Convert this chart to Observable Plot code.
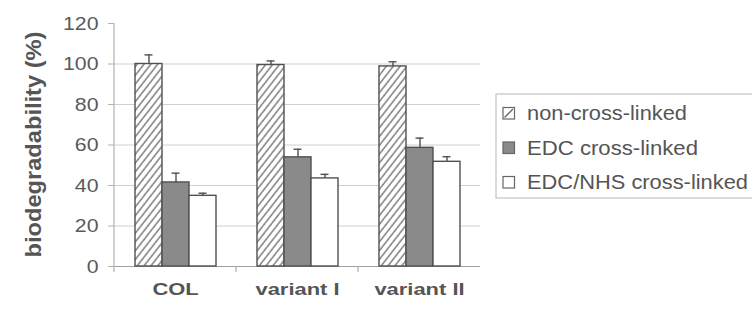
<!DOCTYPE html>
<html>
<head>
<meta charset="utf-8">
<script src="https://cdn.jsdelivr.net/npm/d3@7"></script>
<script src="https://cdn.jsdelivr.net/npm/@observablehq/plot@0.6"></script>
<style>
  html, body { margin: 0; padding: 0; background: white; }
  svg { display: block; }
</style>
</head>
<body>
<div id="chart"></div>
<script>
const groups = ["COL", "variant I", "variant II"];
const series = ["non-cross-linked", "EDC cross-linked", "EDC/NHS cross-linked"];
const nonCrossLinked = [100, 99.5, 98.8];
const edcCrossLinked = [41.5, 53.9, 58.6];
const edcNhsCrossLinked = [34.9, 43.5, 51.7];
const nonCrossErr = [4.5, 2.0, 2.3];
const edcErr = [4.6, 4.0, 4.8];
const edcNhsErr = [1.3, 2.0, 2.5];
const yTicks = [0, 20, 40, 60, 80, 100, 120];
const gridValues = [20, 40, 60, 80, 100];
const yLabel = "biodegradability (%)";

const seriesValues = [nonCrossLinked, edcCrossLinked, edcNhsCrossLinked];
const seriesErrs = [nonCrossErr, edcErr, edcNhsErr];
const fills = ["url(#hatch)", "#8a8a8a", "white"];

const rows = groups.flatMap((g, i) =>
  series.map((s, j) => ({group: g, series: s, value: seriesValues[j][i], err: seriesErrs[j][i]}))
);

const dark = "#505050";
const chart = Plot.plot({
  width: 752,
  height: 311,
  marginLeft: 113,
  marginRight: 271,
  marginTop: 23,
  marginBottom: 45,
  style: {fontFamily: "'Liberation Sans', Arial, sans-serif", background: "white", color: "#5a5a5a"},
  fx: {domain: groups, padding: 0, label: null},
  x: {domain: series, paddingInner: 0, paddingOuter: 0.75, axis: null},
  y: {domain: [0, 120], label: null},
  marks: [
    Plot.ruleY(gridValues, {stroke: "#d0d0d0", strokeWidth: 1}),
    Plot.ruleY([0], {stroke: "#a0a0a0", strokeWidth: 1.2}),
    Plot.axisY({ticks: yTicks, tickSize: 6, tickPadding: 10, fontSize: 19, stroke: "#b0b0b0", fill: "#5a5a5a", label: null}),
    Plot.axisFx({anchor: "bottom", tickSize: 0, tickPadding: 17, fontSize: 16, fontWeight: "bold", fill: "#555", label: null}),
    ...series.map((s, j) =>
      Plot.barY(rows.filter(d => d.series === s), {
        fx: "group", x: "series", y: "value",
        fill: fills[j], stroke: dark, strokeWidth: 1.4
      })
    ),
    Plot.ruleX(rows, {fx: "group", x: "series", y1: "value", y2: d => d.value + d.err, stroke: dark, strokeWidth: 1.4}),
    Plot.tickY(rows, {fx: "group", x: "series", y: d => d.value + d.err, insetLeft: 9.5, insetRight: 9.5, stroke: dark, strokeWidth: 1.4})
  ]
});

document.getElementById("chart").append(chart);

const svg = d3.select(chart);
// hatch pattern
const defs = svg.insert("defs", ":first-child");
const pat = defs.append("pattern").attr("id", "hatch").attr("patternUnits", "userSpaceOnUse")
  .attr("width", 5.4).attr("height", 5.4).attr("patternTransform", "rotate(38)");
pat.append("rect").attr("width", 5.4).attr("height", 5.4).attr("fill", "white");
pat.append("line").attr("x1", 1).attr("y1", 0).attr("x2", 1).attr("y2", 5.4).attr("stroke", "#606060").attr("stroke-width", 1.2);

const fx = chart.scale("fx");
const y = chart.scale("y");
const y0 = y.apply(0);
const yTop = y.apply(120);
const left = fx.apply(groups[0]);
// y axis line
svg.append("line").attr("x1", left).attr("x2", left).attr("y1", yTop).attr("y2", y0 + 6)
  .attr("stroke", "#b0b0b0").attr("stroke-width", 1.2);
// category boundary ticks
groups.slice(1).forEach(g => {
  const x = fx.apply(g);
  svg.append("line").attr("x1", x).attr("x2", x).attr("y1", y0).attr("y2", y0 + 6)
    .attr("stroke", "#b0b0b0").attr("stroke-width", 1.2);
});

// stretch texts like the scanned original
svg.selectAll("g[aria-label='fx-axis tick label'] text").each(function() {
  const w = this.getComputedTextLength();
  d3.select(this).attr("textLength", w * 1.37).attr("lengthAdjust", "spacingAndGlyphs");
});
svg.selectAll("g[aria-label='y-axis tick label'] text").each(function() {
  const w = this.getComputedTextLength();
  d3.select(this).attr("textLength", w * 1.12).attr("lengthAdjust", "spacingAndGlyphs");
});

// y label
svg.append("text")
  .attr("transform", `translate(33,${(y0 + yTop) / 2}) rotate(-90)`)
  .attr("text-anchor", "middle").attr("dy", "0.35em")
  .attr("font-family", "'Liberation Sans', Arial, sans-serif")
  .attr("font-size", 22).attr("font-weight", "bold").attr("fill", "#555")
  .attr("textLength", 226).attr("lengthAdjust", "spacingAndGlyphs")
  .text(yLabel);

// legend
const lg = svg.append("g").attr("font-family", "'Liberation Sans', Arial, sans-serif").attr("text-anchor", "start");
lg.append("rect").attr("x", 496).attr("y", 94).attr("width", 270).attr("height", 104)
  .attr("fill", "white").attr("stroke", "#c4c4c4").attr("stroke-width", 1.2);
const legendWidths = [160, 171, 221];
series.forEach((s, j) => {
  const base = 120 + j * 34.5;
  const sw = lg.append("g");
  sw.append("rect").attr("x", 503).attr("y", base - 12.5).attr("width", 11.5).attr("height", 11.5)
    .attr("fill", j === 1 ? "#8a8a8a" : "white").attr("stroke", "#666").attr("stroke-width", 1.2);
  if (j === 0) {
    sw.append("line").attr("x1", 504.5).attr("y1", base - 2.5).attr("x2", 513).attr("y2", base - 11)
      .attr("stroke", "#666").attr("stroke-width", 1.3);
  }
  lg.append("text").attr("x", 527).attr("y", base).attr("font-size", 19.5).attr("fill", "#555")
    .attr("textLength", legendWidths[j]).attr("lengthAdjust", "spacingAndGlyphs").text(s);
});
</script>
</body>
</html>
